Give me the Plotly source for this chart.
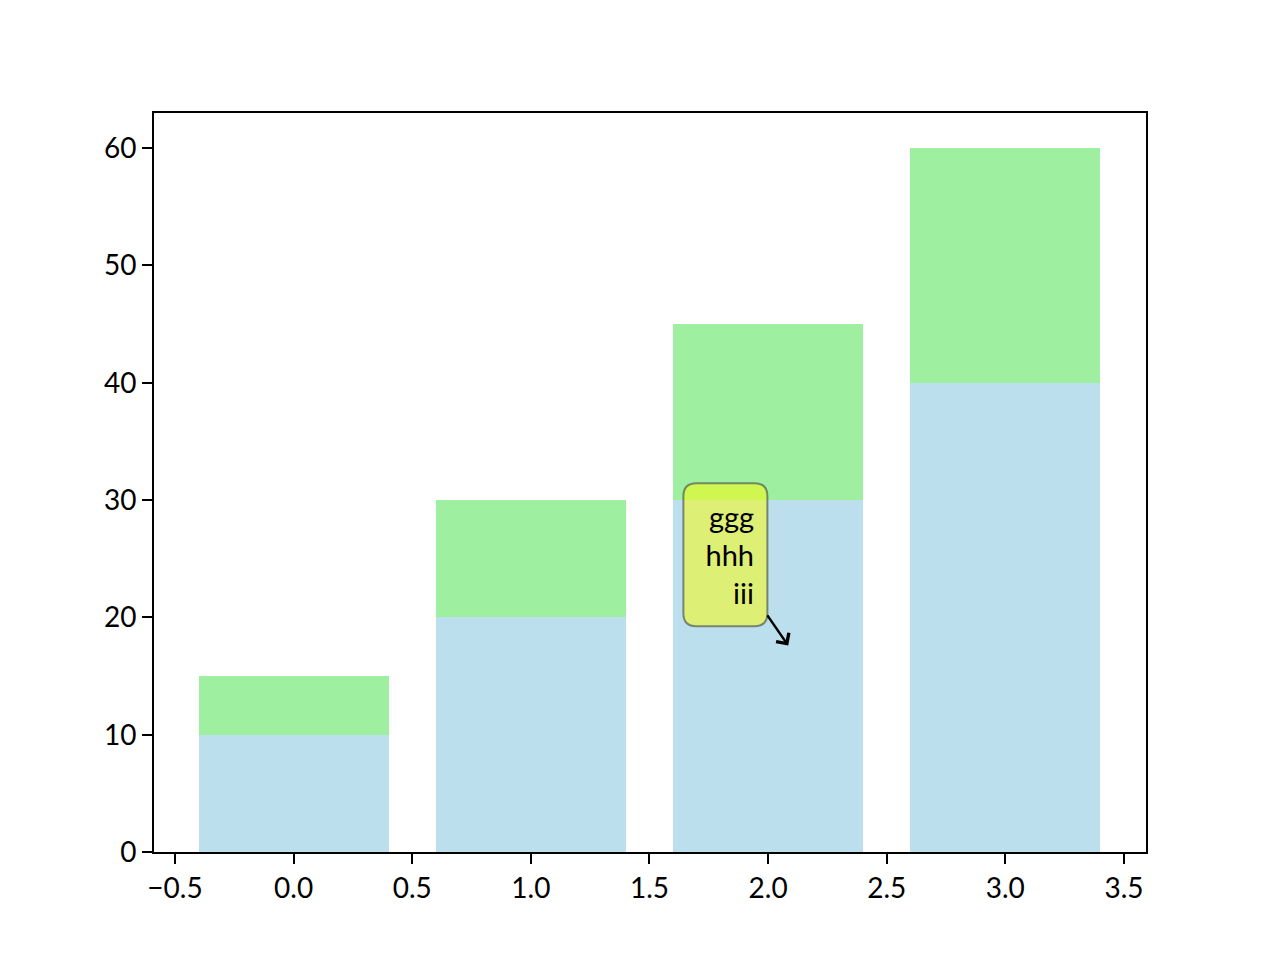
import plotly.graph_objects as go

categories = [0, 1, 2, 3]
bottom_values = [10, 20, 30, 40]
top_values = [5, 10, 15, 20]
x_ticks = [-0.5, 0.0, 0.5, 1.0, 1.5, 2.0, 2.5, 3.0, 3.5]
y_ticks = [0, 10, 20, 30, 40, 50, 60]
note_text = "ggg<br>hhh<br>iii"
note_point = (2.085, 17.6)
note_center = (1.82, 25.35)

FONT = "Lato, DejaVu Sans, sans-serif"

fig = go.Figure()
fig.add_trace(go.Bar(x=categories, y=bottom_values, marker=dict(color="#bcdfed", line=dict(width=0)),
                     width=0.8, showlegend=False))
fig.add_trace(go.Bar(x=categories, y=top_values, marker=dict(color="#9eefa0", line=dict(width=0)),
                     width=0.8, showlegend=False))

# rounded box behind annotation text
w, h, r = 84, 143, 13
hw, hh = w / 2, h / 2
path = (f"M {-hw + r},{-hh} L {hw - r},{-hh} Q {hw},{-hh} {hw},{-hh + r} "
        f"L {hw},{hh - r} Q {hw},{hh} {hw - r},{hh} L {-hw + r},{hh} "
        f"Q {-hw},{hh} {-hw},{hh - r} L {-hw},{-hh + r} Q {-hw},{-hh} {-hw + r},{-hh} Z")
fig.add_shape(type="path", xref="x", yref="y", xsizemode="pixel", ysizemode="pixel",
              xanchor=note_center[0], yanchor=note_center[1], path=path,
              fillcolor="rgba(255,255,0,0.5)", line=dict(color="rgba(90,100,90,0.75)", width=2),
              layer="above")

fig.add_annotation(x=note_point[0], y=note_point[1], ax=note_center[0], ay=note_center[1],
                   xref="x", yref="y", axref="x", ayref="y",
                   text=note_text, align="right", showarrow=True,
                   arrowhead=4, arrowsize=1.2, arrowwidth=2.5, arrowcolor="black",
                   font=dict(family=FONT, size=29, color="black"),
                   width=58, height=115, borderpad=13, borderwidth=0,
                   standoff=0, startstandoff=0)

fig.update_layout(
    barmode="stack",
    width=1272, height=956,
    margin=dict(l=146, r=134, t=105, b=112),
    plot_bgcolor="white", paper_bgcolor="white",
    font=dict(family=FONT, size=28, color="black"),
    xaxis=dict(range=[-0.5885, 3.593], tickvals=x_ticks, tickformat=".1f",
               ticks="outside", ticklen=10, tickwidth=2, tickcolor="black",
               showline=True, linecolor="black", linewidth=2, mirror=True,
               showgrid=False, zeroline=False),
    yaxis=dict(range=[0, 63], tickvals=y_ticks,
               ticks="outside", ticklen=10, tickwidth=2, tickcolor="black",
               showline=True, linecolor="black", linewidth=2, mirror=True,
               showgrid=False, zeroline=False),
)

fig.write_html("out.html")
